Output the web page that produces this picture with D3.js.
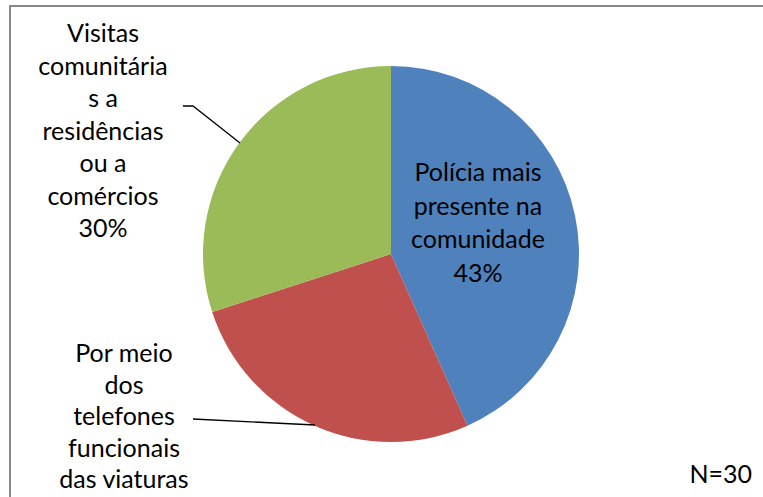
<!DOCTYPE html>
<html>
<head>
<meta charset="utf-8">
<script src="https://cdn.jsdelivr.net/npm/d3@7"></script>
<style>
  body { margin: 0; background: #fff; }
  svg { display: block; }
  text { font-family: Lato, "Open Sans", sans-serif; font-size: 25px; fill: #000; }
</style>
</head>
<body>
<div id="chart"></div>
<script>
// answers (N=30)
const categories = ["Polícia mais presente na comunidade", "Por meio dos telefones funcionais das viaturas", "Visitas comunitárias a residências ou a comércios"];
const counts = [13, 8, 9];
const colors = ["#4F81BD", "#C0504D", "#9BBB59"];
const labelLines = [
  ["Polícia mais", "presente na", "comunidade", "43%"],
  ["Por meio", "dos", "telefones", "funcionais", "das viaturas"],
  ["Visitas", "comunitária", "s a", "residências", "ou a", "comércios", "30%"]
];

const width = 763, height = 497;
const cx = 391, cy = 254, r = 188;

const svg = d3.select("#chart").append("svg")
  .attr("width", width)
  .attr("height", height);

// chart frame (only top and left edges visible)
svg.append("path")
  .attr("d", "M10,497 L10,6 L763,6")
  .attr("fill", "none")
  .attr("stroke", "#898989")
  .attr("stroke-width", 2);

const pie = d3.pie().sort(null).value(d => d);
const arcs = pie(counts);
const arc = d3.arc().innerRadius(0).outerRadius(r);

const g = svg.append("g").attr("transform", `translate(${cx},${cy})`);

g.selectAll("path.slice")
  .data(arcs)
  .enter()
  .append("path")
  .attr("class", "slice")
  .attr("d", arc)
  .attr("fill", (d, i) => colors[i]);

// label positions: [center x, first line y, line spacing]
const labelPos = [
  [478, 181, 33.5],
  [124, 362, 31.5],
  [103, 42, 32.5]
];

labelLines.forEach(function(lines, i) {
  const t = svg.append("text")
    .attr("text-anchor", "middle");
  lines.forEach(function(line, j) {
    t.append("tspan")
      .attr("x", labelPos[i][0])
      .attr("y", labelPos[i][1] + j * labelPos[i][2])
      .text(line);
  });
});

// leader lines
const leaders = [
  [[183, 106], [193, 106], [240, 143]],
  [[193, 419], [315, 425]]
];
svg.selectAll("path.leader")
  .data(leaders)
  .enter()
  .append("path")
  .attr("class", "leader")
  .attr("d", d3.line())
  .attr("fill", "none")
  .attr("stroke", "#000")
  .attr("stroke-width", 1.3);

svg.append("text")
  .attr("x", 752)
  .attr("y", 483)
  .attr("text-anchor", "end")
  .text("N=30");
</script>
</body>
</html>
